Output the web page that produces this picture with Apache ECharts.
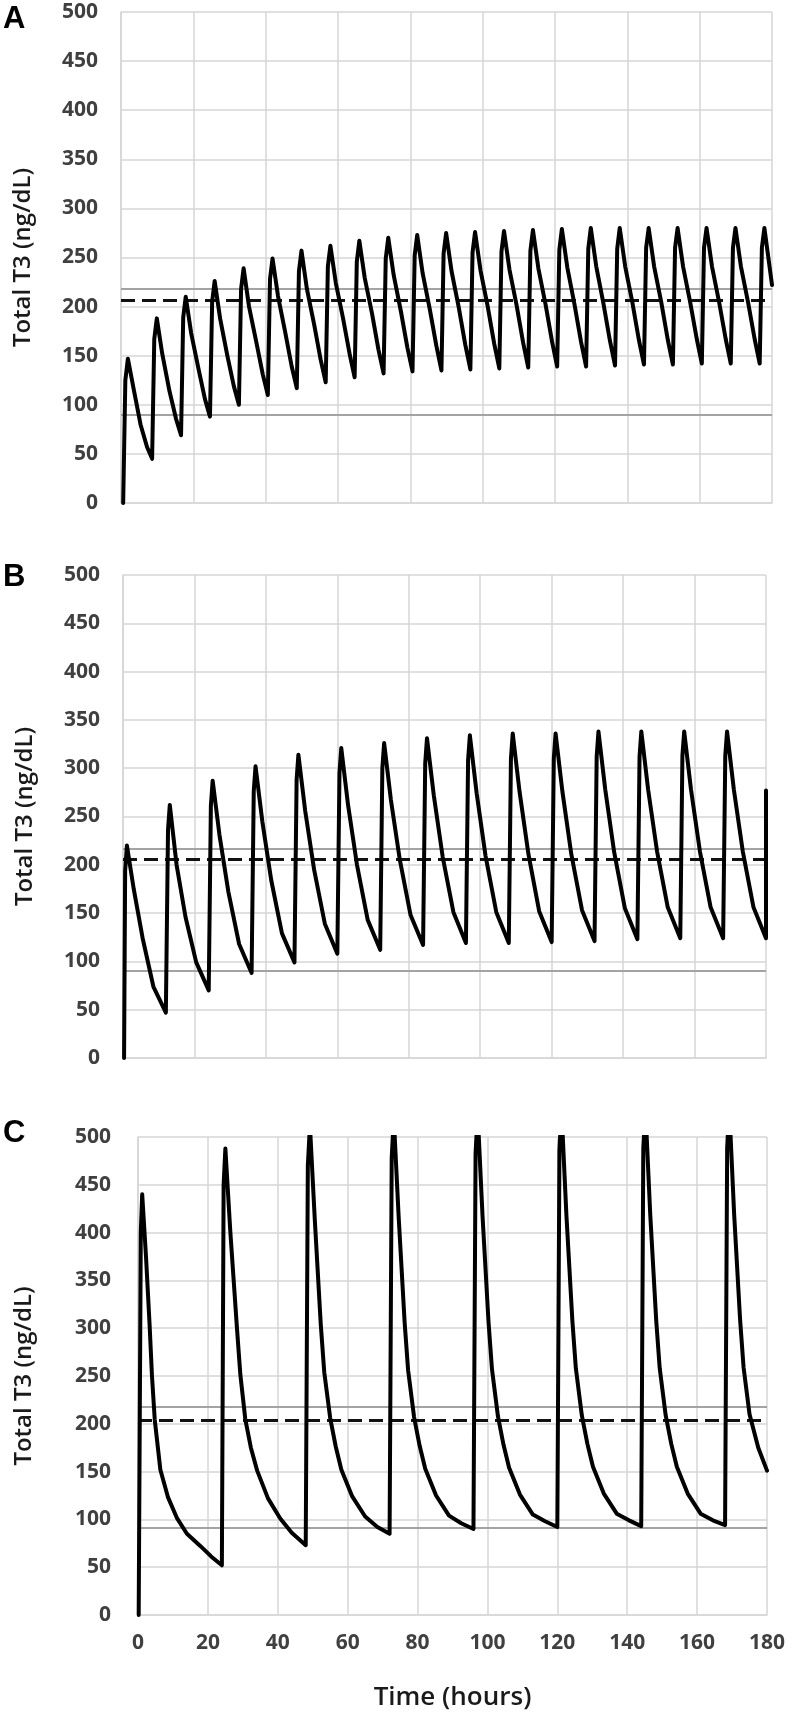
<!DOCTYPE html>
<html>
<head>
<meta charset="utf-8">
<title>Total T3</title>
<script src="https://cdn.jsdelivr.net/npm/echarts@6/dist/echarts.min.js"></script>
<style>
  html, body { margin: 0; padding: 0; background: #fff; }
  #chart { width: 792px; height: 1712px; }
</style>
</head>
<body>
<div id="chart"></div>
<script>
  // panel A: dose every 8 h
  const hoursA = [
    0.6, 1.2, 1.9, 3.4, 5.4, 7.2,
    8.6, 9.2, 9.9, 11.4, 13.4, 15.2,
    16.6, 17.2, 17.9, 19.4, 21.4, 23.2,
    24.6, 25.2, 25.9, 27.4, 29.4, 31.2,
    32.6, 33.2, 33.9, 35.4, 37.4, 39.2,
    40.6, 41.2, 41.9, 43.4, 45.4, 47.2,
    48.6, 49.2, 49.9, 51.4, 53.4, 55.2,
    56.6, 57.2, 57.9, 59.4, 61.4, 63.2,
    64.6, 65.2, 65.9, 67.4, 69.4, 71.2,
    72.6, 73.2, 73.9, 75.4, 77.4, 79.2,
    80.6, 81.2, 81.9, 83.4, 85.4, 87.2,
    88.6, 89.2, 89.9, 91.4, 93.4, 95.2,
    96.6, 97.2, 97.9, 99.4, 101.4, 103.2,
    104.6, 105.2, 105.9, 107.4, 109.4, 111.2,
    112.6, 113.2, 113.9, 115.4, 117.4, 119.2,
    120.6, 121.2, 121.9, 123.4, 125.4, 127.2,
    128.6, 129.2, 129.9, 131.4, 133.4, 135.2,
    136.6, 137.2, 137.9, 139.4, 141.4, 143.2,
    144.6, 145.2, 145.9, 147.4, 149.4, 151.2,
    152.6, 153.2, 153.9, 155.4, 157.4, 159.2,
    160.6, 161.2, 161.9, 163.4, 165.4, 167.2,
    168.6, 169.2, 169.9, 171.4, 173.4, 175.2,
    176.6, 177.2, 177.9, 180
  ]
  const t3A = [
    0, 125, 147, 118, 80, 57,
    45, 167, 188, 152, 114, 86,
    69, 189, 210, 173, 137, 106,
    88, 205, 226, 188, 150, 119,
    100, 218, 239, 200, 164, 131,
    110, 228, 249, 211, 174, 139,
    117, 236, 257, 218, 182, 146,
    123, 241, 262, 224, 188, 152,
    128, 246, 267, 229, 193, 156,
    132, 249, 270, 232, 195, 158,
    134, 252, 273, 234, 197, 160,
    135, 254, 275, 236, 199, 161,
    136, 255, 276, 237, 200, 162,
    137, 256, 277, 238, 201, 163,
    138, 257, 278, 239, 202, 164,
    139, 258, 279, 240, 202, 164,
    139, 259, 280, 241, 203, 165,
    140, 259, 280, 241, 204, 166,
    141, 260, 280, 241, 204, 166,
    141, 260, 280, 241, 204, 167,
    142, 260, 280, 241, 204, 167,
    142, 260, 280, 241, 204, 167,
    142, 260, 280, 222
  ]

  // panel B: dose every 12 h
  const hoursB = [
    0.3, 0.6, 1.1, 3, 5.5, 8.5,
    12, 12.6, 13.1, 15, 17.5, 20.5,
    24, 24.6, 25.1, 27, 29.5, 32.5,
    36, 36.6, 37.1, 39, 41.5, 44.5,
    48, 48.6, 49.1, 51, 53.5, 56.5,
    60, 60.6, 61.1, 63, 65.5, 68.5,
    72, 72.6, 73.1, 75, 77.5, 80.5,
    84, 84.6, 85.1, 87, 89.5, 92.5,
    96, 96.6, 97.1, 99, 101.5, 104.5,
    108, 108.6, 109.1, 111, 113.5, 116.5,
    120, 120.6, 121.1, 123, 125.5, 128.5,
    132, 132.6, 133.1, 135, 137.5, 140.5,
    144, 144.6, 145.1, 147, 149.5, 152.5,
    156, 156.6, 157.1, 159, 161.5, 164.5,
    168, 168.6, 169.1, 171, 173.5, 176.5,
    180, 180
  ]
  const t3B = [
    0, 194, 220, 175, 124, 74,
    47, 236, 262, 200, 146, 99,
    70, 261, 287, 231, 172, 118,
    88, 276, 302, 245, 184, 129,
    99, 288, 314, 256, 195, 139,
    108, 295, 321, 262, 200, 143,
    112, 300, 326, 267, 205, 148,
    117, 305, 331, 272, 208, 151,
    119, 308, 334, 274, 209, 151,
    119, 310, 336, 276, 211, 152,
    120, 310, 336, 276, 211, 153,
    121, 312, 338, 278, 213, 155,
    123, 312, 338, 278, 214, 156,
    124, 313, 338, 278, 214, 156,
    124, 313, 338, 278, 214, 156,
    124, 277
  ]

  // panel C: dose every 24 h (peaks above 500 are cut by the axis)
  const hoursC = [
    0.2, 0.8, 1.2, 2.3, 3.3, 4.0, 4.8, 6.4, 8.6, 11.2, 14, 17.9, 21,
    24, 24.5, 25, 26.4, 28.3, 29.3, 30.7, 32.3, 34.1, 37.2, 40.7, 44,
    48, 48.6, 49.2, 50.6, 52.3, 53.3, 55, 56.6, 58.2, 61.3, 65, 68.5,
    72, 72.6, 73.2, 74.6, 76.3, 77.3, 79, 80.6, 82.2, 85.3, 89, 92.5,
    96, 96.6, 97.2, 98.6, 100.3, 101.3, 103, 104.6, 106.2, 109.3, 113, 116.5,
    120, 120.6, 121.2, 122.6, 124.3, 125.3, 127, 128.6, 130.2, 133.3, 137, 140.5,
    144, 144.6, 145.2, 146.6, 148.3, 149.3, 151, 152.6, 154.2, 157.3, 161, 164.5,
    168, 168.6, 169.2, 170.6, 172.3, 173.3, 175, 177.5, 180
  ]
  const t3C = [
    0, 400, 440, 374, 305, 250, 204, 152, 123, 101, 85, 72, 61,
    52, 450, 488, 402, 301, 251, 205, 175, 151, 122, 101, 86,
    73, 470, 512, 413, 304, 254, 206, 176, 152, 124, 103, 92,
    85, 478, 520, 416, 306, 256, 207, 177, 153, 125, 104, 96,
    90, 483, 525, 417, 307, 257, 208, 178, 154, 126, 105, 98,
    92, 486, 528, 418, 308, 258, 209, 179, 155, 127, 106, 99,
    93, 488, 530, 418, 308, 258, 209, 179, 155, 127, 106, 99,
    94, 489, 531, 419, 309, 259, 210, 175, 151
  ]

  // reference lines: [lower, upper] grey, dashed target
  const rangeLines = [[90, 218], [90, 217], [91, 218]]
  const targetLines = [206, 206, 204]

  const xTicks = [0, 20, 40, 60, 80, 100, 120, 140, 160, 180]
  const yTicks = [0, 50, 100, 150, 200, 250, 300, 350, 400, 450, 500]
  const panelLetters = ['A', 'B', 'C']

  const font = '"Open Sans", "DejaVu Sans", sans-serif'
  const gridColor = '#d6d6d6'

  const grids = [
    { left: 121, top: 12, width: 651, height: 491 },
    { left: 123, top: 575, width: 643, height: 483 },
    { left: 138, top: 1137, width: 629, height: 482 }
  ]
  const nameGaps = [86, 86, 102]
  const letterTops = [4, 562, 1118]

  function zip(xs, ys) {
    return xs.map((x, i) => [x, ys[i]])
  }

  const series = [zip(hoursA, t3A), zip(hoursB, t3B), zip(hoursC, t3C)].map((data, i) => ({
    type: 'line',
    xAxisIndex: i,
    yAxisIndex: i,
    data: data,
    showSymbol: false,
    clip: true,
    z: 5,
    lineStyle: { color: '#000', width: 4, join: 'round', cap: 'round' },
    markLine: {
      silent: true,
      symbol: 'none',
      label: { show: false },
      z: 3,
      data: [
        { yAxis: rangeLines[i][0], lineStyle: { color: '#a3a3a3', width: 2, type: 'solid' } },
        { yAxis: rangeLines[i][1], lineStyle: { color: '#a3a3a3', width: 2, type: 'solid' } },
        { yAxis: targetLines[i], lineStyle: { color: '#111', width: 3, type: [14, 7] } }
      ]
    }
  }))

  const option = {
    animation: false,
    backgroundColor: '#fff',
    textStyle: { fontFamily: font },
    grid: grids,
    xAxis: grids.map((g, i) => ({
      type: 'value',
      gridIndex: i,
      min: xTicks[0],
      max: xTicks[xTicks.length - 1],
      interval: 20,
      name: i === 2 ? 'Time (hours)' : '',
      nameLocation: 'middle',
      nameGap: 70,
      nameTextStyle: { fontSize: 26, fontWeight: 600, color: '#1a1a1a', fontFamily: font },
      axisLine: { show: true, lineStyle: { color: gridColor, width: 1.5 } },
      axisTick: { show: false },
      axisLabel: {
        show: i === 2,
        fontSize: 21,
        fontWeight: 'bold',
        color: '#404040',
        margin: 18,
        fontFamily: font
      },
      splitLine: { show: true, lineStyle: { color: gridColor, width: 1.5 } }
    })),
    yAxis: grids.map((g, i) => ({
      type: 'value',
      gridIndex: i,
      min: yTicks[0],
      max: yTicks[yTicks.length - 1],
      interval: 50,
      name: 'Total T3 (ng/dL)',
      nameLocation: 'middle',
      nameGap: nameGaps[i],
      nameTextStyle: { fontSize: 24, fontWeight: 600, color: '#1a1a1a', fontFamily: font },
      axisLine: { show: true, lineStyle: { color: gridColor, width: 1.5 } },
      axisTick: { show: false },
      axisLabel: {
        fontSize: 21,
        fontWeight: 'bold',
        color: '#404040',
        margin: i === 2 ? 27 : 23,
        fontFamily: font
      },
      splitLine: { show: true, lineStyle: { color: gridColor, width: 1.5 } }
    })),
    graphic: panelLetters.map((t, i) => ({
      type: 'text',
      left: 3,
      top: letterTops[i],
      style: {
        text: t,
        font: 'bold 31px "Liberation Sans", Arial, sans-serif',
        fill: '#000'
      }
    })),
    series: series
  }

  const chart = echarts.init(document.getElementById('chart'), null, { renderer: 'canvas' })
  chart.setOption(option)
  window.addEventListener('resize', () => chart.resize())
</script>
</body>
</html>
